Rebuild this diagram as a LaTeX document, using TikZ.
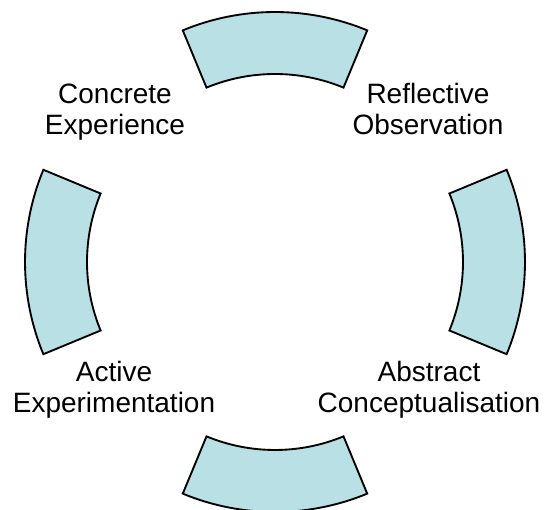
\documentclass[tikz,border=0pt]{standalone}
\usepackage{fontspec}
\setmainfont{Liberation Sans}
\usepackage{tikz}
\definecolor{sectorblue}{RGB}{185,224,228}

\begin{document}
\begin{tikzpicture}[x=0.75pt,y=0.75pt,
    sector/.style={fill=sectorblue,draw=black,line width=1.4pt,line join=miter},
    stage/.style={align=center,anchor=base,inner sep=0pt,
      font=\fontsize{21}{23.25}\selectfont}]
  \useasboundingbox (0,0) rectangle (544,510);
  \filldraw[sector,shift={(275,257)}]
    (67.5:241) arc[start angle=67.5,end angle=112.5,radius=241]
    --
    (112.5:179) arc[start angle=112.5,end angle=67.5,radius=179]
    -- cycle;
  \filldraw[sector,shift={(284,248)}]
    (-22.5:241) arc[start angle=-22.5,end angle=22.5,radius=241]
    --
    (22.5:179) arc[start angle=22.5,end angle=-22.5,radius=179]
    -- cycle;
  \filldraw[sector,shift={(275,239)}]
    (247.5:241) arc[start angle=247.5,end angle=292.5,radius=241]
    --
    (292.5:179) arc[start angle=292.5,end angle=247.5,radius=179]
    -- cycle;
  \filldraw[sector,shift={(266,248)}]
    (157.5:241) arc[start angle=157.5,end angle=202.5,radius=241]
    --
    (202.5:179) arc[start angle=202.5,end angle=157.5,radius=179]
    -- cycle;
  \node[stage] (concrete) at (115,375) {Concrete\\Experience};
  \node[stage] (reflective) at (428,375) {Reflective\\Observation};
  \node[stage] (abstract) at (429,97) {Abstract\\Conceptualisation};
  \node[stage] (active) at (114,97) {Active\\Experimentation};
\end{tikzpicture}
\end{document}
